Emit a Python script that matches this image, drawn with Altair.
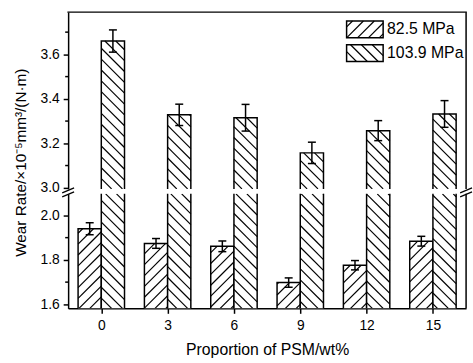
import math
import altair as alt
import pandas as pd

# ---------------- data ----------------
props = [0, 3, 6, 9, 12, 15]
series = ["82.5 MPa", "103.9 MPa"]
rate_825 = [1.940, 1.874, 1.861, 1.698, 1.776, 1.884]
err_825 = [0.027, 0.022, 0.024, 0.021, 0.021, 0.022]
rate_1039 = [3.660, 3.328, 3.315, 3.157, 3.257, 3.332]
err_1039 = [0.050, 0.048, 0.060, 0.048, 0.045, 0.060]

top_ticks = [3.0, 3.2, 3.4, 3.6]
top_minor = [3.1, 3.3, 3.5, 3.7]
bot_ticks = [1.6, 1.8, 2.0]
bot_minor = [1.7, 1.9]

x_title = "Proportion of PSM/wt%"
y_title = "Wear Rate/×10⁻⁵mm³/(N·m)"

# ---------------- layout constants ----------------
FONT = "Liberation Sans"
XMIN, XMAX = -1.5, 16.5
W = 403
TOP_DOM = (2.995, 3.79)
H_TOP = 179
BOT_DOM = (1.582, 2.097)
H_BOT = 116
BW = 1.05          # bar width in x units
CAP = 0.18         # half cap width in x units
HATCH = 11.0       # vertical hatch spacing in px
PX = W / (XMAX - XMIN)


def hatch_up(X0, X1, Y0, Y1, direction, step):
    """Hatch segments inside a rectangle in a y-up pixel space."""
    segs = []
    if direction == "/":
        cmin, cmax = Y0 - X1, Y1 - X0
        k = math.ceil(cmin / step)
        while k * step <= cmax:
            c = k * step
            xa, xb = max(X0, Y0 - c), min(X1, Y1 - c)
            if xb - xa > 0.4:
                segs.append((xa, xa + c, xb, xb + c))
            k += 1
    else:
        cmin, cmax = X0 + Y0, X1 + Y1
        k = math.ceil(cmin / step)
        while k * step <= cmax:
            c = k * step
            xa, xb = max(X0, c - Y1), min(X1, c - Y0)
            if xb - xa > 0.4:
                segs.append((xa, c - xa, xb, c - xb))
            k += 1
    return segs


def bar_rows():
    rows = []
    for i, p in enumerate(props):
        rows.append(dict(s=series[0], xa=p - BW, xb=p, xc=p - BW / 2,
                         v=rate_825[i], e=err_825[i], d="/"))
        rows.append(dict(s=series[1], xa=p, xb=p + BW, xc=p + BW / 2,
                         v=rate_1039[i], e=err_1039[i], d="\\"))
    return rows


def panel(dom, height, is_top):
    ymin, ymax = dom
    py = height / (ymax - ymin)
    rows = [r for r in bar_rows() if r["v"] > ymin]
    bars = pd.DataFrame([dict(xa=r["xa"], xb=r["xb"], top=min(r["v"], ymax + 0.2),
                              base=ymin - 0.2) for r in rows])
    hs = []
    for r in rows:
        X0, X1 = (r["xa"] - XMIN) * PX, (r["xb"] - XMIN) * PX
        Y0, Y1 = 0.0, (min(r["v"], ymax) - ymin) * py
        for (a, b, c, d) in hatch_up(X0, X1, Y0, Y1, r["d"], HATCH):
            hs.append(dict(hx=a / PX + XMIN, hy=b / py + ymin,
                           hx2=c / PX + XMIN, hy2=d / py + ymin))
    hatch = pd.DataFrame(hs)
    errs = pd.DataFrame([dict(xc=r["xc"], lo=r["v"] - r["e"], hi=r["v"] + r["e"],
                              cl=r["xc"] - CAP, cr=r["xc"] + CAP)
                         for r in rows if ymin < r["v"] < ymax])

    xs = alt.Scale(domain=[XMIN, XMAX], nice=False, zero=False)
    ys = alt.Scale(domain=[ymin, ymax], nice=False, zero=False)
    if is_top:
        xaxis = None
        yaxis = alt.Axis(values=top_ticks, format=".1f", title=y_title,
                         titleX=-48, titleY=152, titleAngle=-90, titleAlign="center",
                         titleBaseline="middle", titleFont=FONT, titleFontSize=15.5,
                         titleFontWeight="normal", titleColor="black")
    else:
        xaxis = alt.Axis(values=props, format="d", title=x_title, tickSize=5,
                         tickWidth=1.5, domainWidth=1.5, domainColor="black",
                         tickColor="black", labelColor="black", labelFont=FONT,
                         labelFontSize=14, labelPadding=5, grid=False,
                         titleFont=FONT, titleFontSize=16, titleFontWeight="normal",
                         titleColor="black", titlePadding=10)
        yaxis = alt.Axis(values=bot_ticks, format=".1f", title=None)

    def X(f):
        return alt.X(f, type="quantitative", scale=xs, axis=xaxis)

    def Y(f):
        return alt.Y(f, type="quantitative", scale=ys, axis=yaxis)

    layers = []
    layers.append(alt.Chart(bars).mark_rect(fill="white", stroke="black",
                                             strokeWidth=1.5, clip=True).encode(
        x=X("xa"), x2="xb", y=Y("top"), y2="base"))
    layers.append(alt.Chart(hatch).mark_rule(color="black", strokeWidth=1.2,
                                              clip=True).encode(
        x=X("hx"), x2="hx2", y=Y("hy"), y2="hy2"))
    layers.append(alt.Chart(errs).mark_rule(color="black", strokeWidth=1.5).encode(
        x=X("xc"), y=Y("lo"), y2="hi"))
    layers.append(alt.Chart(errs).mark_rule(color="black", strokeWidth=1.5).encode(
        x=X("cl"), x2="cr", y=Y("hi")))
    layers.append(alt.Chart(errs).mark_rule(color="black", strokeWidth=1.5).encode(
        x=X("cl"), x2="cr", y=Y("lo")))
    minor = pd.DataFrame({"m": top_minor if is_top else bot_minor})
    layers.append(alt.Chart(minor).mark_rule(color="black", strokeWidth=1.5).encode(
        x=alt.value(-3), x2=alt.value(0), y=Y("m")))

    one = pd.DataFrame({"k": [0]})
    layers.append(alt.Chart(one).mark_rule(color="black", strokeWidth=1.5).encode(
        x=alt.value(W), y=alt.value(0), y2=alt.value(height)))
    if is_top:
        layers.append(alt.Chart(one).mark_rule(color="black", strokeWidth=1.5).encode(
            x=alt.value(-0.75), x2=alt.value(W + 0.75), y=alt.value(0)))
        # axis break marks
        for xo in (0, W):
            for dy in (0, 4):
                layers.append(alt.Chart(one).mark_rule(color="black", strokeWidth=1.3).encode(
                    x=alt.value(xo - 6), x2=alt.value(xo + 6),
                    y=alt.value(height + 4 + dy), y2=alt.value(height - 1 + dy)))
        # legend
        leg_rows, leg_hatch = [], []
        for j, s in enumerate(series):
            x0, x1 = 282, 319
            y0, y1 = 9 + 24 * j, 26 + 24 * j
            leg_rows.append(dict(s=s, x0=x0, x1=x1, y0=y0, y1=y1,
                                 tx=323, ty=(y0 + y1) / 2))
            for (a, b, c, d) in hatch_up(x0, x1, -y1, -y0, "/" if j == 0 else "\\", HATCH):
                leg_hatch.append(dict(a=a, b=-b, c=c, d=-d))
        leg = pd.DataFrame(leg_rows)
        lh = pd.DataFrame(leg_hatch)
        layers.append(alt.Chart(leg).mark_rect(fill="white", stroke="black",
                                                strokeWidth=1.5).encode(
            x=alt.X("x0:Q", scale=None), x2="x1:Q",
            y=alt.Y("y0:Q", scale=None), y2="y1:Q"))
        layers.append(alt.Chart(lh).mark_rule(color="black", strokeWidth=1.2).encode(
            x=alt.X("a:Q", scale=None), x2="c:Q",
            y=alt.Y("b:Q", scale=None), y2="d:Q"))
        layers.append(alt.Chart(leg).mark_text(align="left", baseline="middle",
                                                font=FONT, fontSize=16,
                                                color="black").encode(
            x=alt.X("tx:Q", scale=None), y=alt.Y("ty:Q", scale=None), text="s:N"))

    return alt.layer(*layers).properties(width=W, height=height)


top = panel(TOP_DOM, H_TOP, True)
bottom = panel(BOT_DOM, H_BOT, False)

chart = alt.vconcat(top, bottom, spacing=5, bounds="flush").properties(
    padding={"left": 14, "top": 9, "right": 0, "bottom": 0},
    background="white",
).configure_view(stroke=None).configure_axis(
    tickSize=5, tickWidth=1.5, domainWidth=1.5, domainColor="black",
    tickColor="black", labelColor="black", labelFont=FONT, labelFontSize=14,
    labelPadding=4, grid=False,
)

chart.save("out.html", embed_options={"renderer": "svg", "actions": False})
